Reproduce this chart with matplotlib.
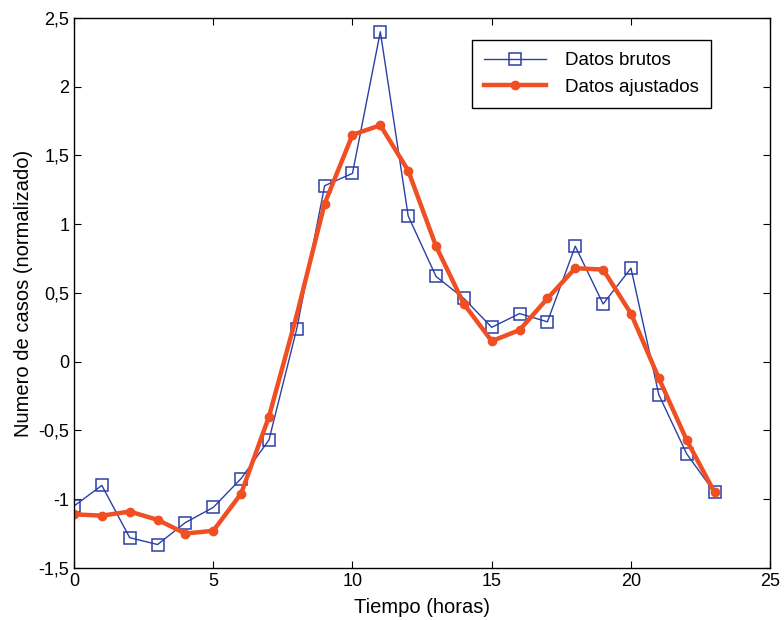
import numpy as np
import matplotlib.pyplot as plt
from matplotlib.ticker import FuncFormatter

plt.rcParams['font.family'] = ['Liberation Sans', 'DejaVu Sans']

horas = list(range(24))
datos_brutos = [-1.05, -0.90, -1.28, -1.33, -1.17, -1.06, -0.85, -0.57,
                0.24, 1.28, 1.37, 2.40, 1.06, 0.62, 0.46, 0.25,
                0.35, 0.29, 0.84, 0.42, 0.68, -0.24, -0.67, -0.95]
datos_ajustados = [-1.11, -1.12, -1.09, -1.15, -1.25, -1.23, -0.96, -0.40,
                   0.34, 1.15, 1.65, 1.72, 1.39, 0.84, 0.42, 0.15,
                   0.23, 0.46, 0.68, 0.67, 0.35, -0.12, -0.57, -0.95]
# en la figura original no se ve el punto de la hora 8
marcas_ajustados = [i for i in horas if i != 8]

fig = plt.figure(figsize=(7.84, 6.2), dpi=100)
ax = fig.add_axes([0.0944, 0.084, 0.888, 0.887])

ax.plot(horas, datos_brutos, color='#2b3fa6', lw=1.0, marker='s', ms=9,
        mfc='none', mec='#2b3fa6', mew=1.1, label='Datos brutos')
ax.plot(horas, datos_ajustados, color='#f04e23', lw=3.2, marker='o', ms=6,
        markevery=marcas_ajustados, label='Datos ajustados')

ax.set_xlim(0, 25)
ax.set_ylim(-1.5, 2.5)
ax.set_xticks([0, 5, 10, 15, 20, 25])
ax.set_yticks(np.arange(-1.5, 2.51, 0.5))
coma = FuncFormatter(lambda v, p: ('%g' % v).replace('.', ','))
ax.xaxis.set_major_formatter(coma)
ax.yaxis.set_major_formatter(coma)
ax.tick_params(direction='in', top=True, right=True, labelsize=13, length=5)
for s in ax.spines.values():
    s.set_linewidth(1.0)

ax.set_xlabel('Tiempo (horas)', fontsize=14.5, labelpad=6)
ax.set_ylabel('Numero de casos (normalizado)', fontsize=14.5, labelpad=4)

leg = ax.legend(loc='upper left', bbox_to_anchor=(0.572, 0.96), fontsize=13.5,
                fancybox=False, edgecolor='black', framealpha=1,
                borderaxespad=0, handlelength=3.3, handletextpad=1.0,
                borderpad=0.65, labelspacing=0.5)
leg.get_frame().set_linewidth(1.0)

fig.savefig('out.png', dpi=100)
